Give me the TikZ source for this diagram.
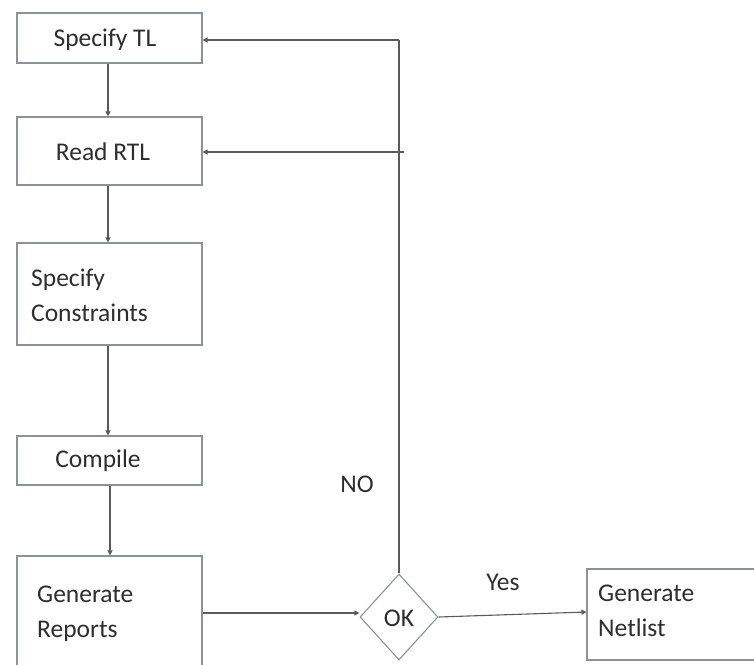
\documentclass[tikz,border=0pt]{standalone}
\usepackage{fontspec}
\setmainfont{Carlito}
\usetikzlibrary{shapes.geometric,arrows.meta}
\definecolor{boxline}{HTML}{8C919B}
\definecolor{wire}{HTML}{5A5A5A}
\definecolor{ink}{HTML}{2E2E2E}
\tikzset{
  stepbox/.style={draw=boxline, line width=1.1pt, fill=white, text=ink, inner sep=0pt},
  link/.style={draw=wire, line width=1.1pt, -{Triangle[length=5pt,width=5pt]}},
  plain/.style={draw=wire, line width=1.1pt},
  lbl/.style={text=ink, font=\fontsize{25.5}{35}\selectfont, inner sep=0pt}
}
\begin{document}
\begin{tikzpicture}[x=1pt,y=-1pt]
\useasboundingbox (0,0) rectangle (754,664);

% process boxes
\node[stepbox, minimum width=185pt, minimum height=50pt] (tl) at (109.5,38) {};
\node[lbl] at (105,40) {Specify TL};
\node[stepbox, minimum width=185pt, minimum height=68pt] (rtl) at (109.5,151) {};
\node[lbl] at (103,152) {Read RTL};
\node[stepbox, minimum width=185pt, minimum height=102pt] (con) at (109.5,294) {};
\node[lbl, anchor=west, align=left] at (31,295) {Specify\\Constraints};
\node[stepbox, minimum width=185pt, minimum height=49pt] (cmp) at (109.5,460.5) {};
\node[lbl] at (98,461) {Compile};
\node[stepbox, minimum width=185pt, minimum height=120pt] (rep) at (109.5,616) {};
\node[lbl, anchor=west, align=left] at (37,614) {Generate\\Reports};
\node[stepbox, minimum width=200pt, minimum height=91pt] (net) at (687,614.5) {};
\node[lbl, anchor=west, align=left] at (598,611) {Generate\\Netlist};

% decision
\node[stepbox, diamond, minimum width=78pt, minimum height=86pt] (ok) at (399,617) {};
\node[lbl] at (399,618) {OK};

% vertical flow
\draw[link] (tl.south -| 108,0) -- (rtl.north -| 108,0);
\draw[link] (rtl.south -| 108,0) -- (con.north -| 108,0);
\draw[link] (con.south -| 108,0) -- (cmp.north -| 108,0);
\draw[link] (cmp.south -| 110,0) -- (rep.north -| 110,0);

% to decision and result
\draw[link] (rep.east |- 0,613) -- (ok.west |- 0,613);
\draw[link] (ok.east) -- (net.west |- 0,612);
\node[lbl] at (503,582) {Yes};

% feedback loop
\coordinate (top) at (399,40);
\coordinate (mid) at (404,152);
\draw[plain] (ok.north) -- (top);
\draw[link] (top) -- (tl.east |- top);
\draw[link] (mid) -- (rtl.east |- mid);
\node[lbl] at (357,484) {NO};
\end{tikzpicture}
\end{document}
